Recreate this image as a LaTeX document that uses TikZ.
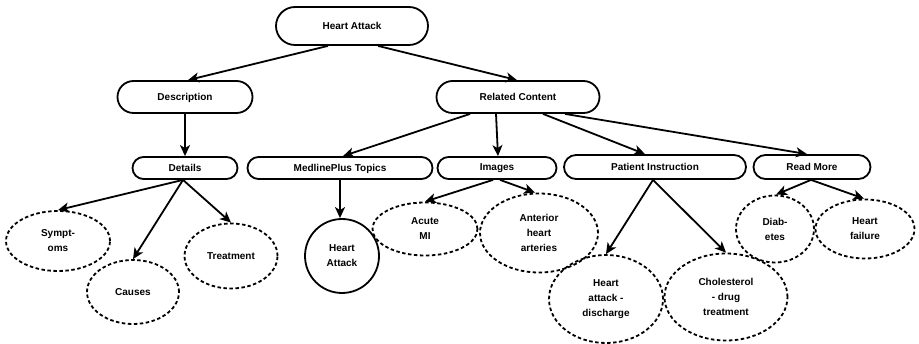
\documentclass[tikz,border=0pt]{standalone}
\usepackage{fontspec}
\setmainfont{Liberation Sans}
\usetikzlibrary{shapes.geometric,arrows.meta}
\tikzset{
  box/.style={draw, line width=1.8pt, rounded corners=#1, inner sep=0pt, text depth=1pt, font=\bfseries\fontsize{10}{15}\selectfont},
  oval/.style={draw, ellipse, line width=1.8pt, dash pattern=on 3.5pt off 2.5pt, inner sep=0pt, align=center, font=\bfseries\fontsize{10}{15}\selectfont},
  arr/.style={line width=1.8pt, -{Stealth[length=11pt,width=10pt,inset=3pt]}},
}
\begin{document}
\begin{tikzpicture}[x=1pt,y=-1pt]
\useasboundingbox (0,0) rectangle (919,344);
% rounded boxes
\node[box=19pt, minimum width=152pt, minimum height=38pt] (ha) at (352,26) {Heart Attack};
\node[box=16pt, minimum width=135pt, minimum height=32pt] (desc) at (185,97) {Description};
\node[box=16pt, minimum width=163pt, minimum height=32pt] (rc) at (518,97) {Related Content};
\node[box=11pt, minimum width=105pt, minimum height=22pt] (det) at (185,168) {Details};
\node[box=11pt, minimum width=185pt, minimum height=22pt] (mp) at (340,168) {MedlinePlus Topics};
\node[box=11pt, minimum width=119pt, minimum height=22pt] (img) at (497,168) {Images};
\node[box=12pt, minimum width=182pt, minimum height=24pt] (pi) at (655,167) {Patient Instruction};
\node[box=12pt, minimum width=117pt, minimum height=24pt] (rm) at (812,167) {Read More};
% ellipses
\node[oval, minimum width=104pt, minimum height=60pt] (sym) at (58,241) {Sympt-\\oms};
\node[oval, minimum width=92pt, minimum height=64pt] (cau) at (133,292) {Causes};
\node[oval, minimum width=93pt, minimum height=65pt] (tre) at (231,256) {Treatment};
\node[draw, circle, line width=1.8pt, minimum size=74pt, inner sep=0pt, align=center, font=\bfseries\fontsize{10}{15}\selectfont] (hac) at (342,256) {Heart\\Attack};
\node[oval, minimum width=105pt, minimum height=53pt] (ami) at (425,229) {Acute\\MI};
\node[oval, minimum width=118pt, minimum height=79pt] (aha) at (539,233) {Anterior\\heart\\arteries};
\node[oval, minimum width=114pt, minimum height=88pt] (had) at (606,299) {Heart\\attack -\\discharge};
\node[oval, minimum width=123pt, minimum height=87pt] (chol) at (726,297) {Cholesterol\\- drug\\treatment};
\node[oval, minimum width=78pt, minimum height=67pt] (dia) at (775,229) {Diab-\\etes};
\node[oval, minimum width=99pt, minimum height=59pt] (hf) at (865,229) {Heart\\failure};
% connectors
\draw[arr] ([xshift=-24pt]ha.south) -- ([xshift=3pt]desc.north);
\draw[arr] ([xshift=26pt]ha.south) -- ([xshift=-1pt]rc.north);
\draw[arr] (desc.south) -- (det.north);
\draw[arr] ([xshift=-48pt]rc.south) -- ([xshift=3pt]mp.north);
\draw[arr] ([xshift=-22pt]rc.south) -- ([xshift=1pt]img.north);
\draw[arr] ([xshift=25pt]rc.south) -- ([xshift=-10pt]pi.north);
\draw[arr] ([xshift=47pt]rc.south) -- ([xshift=-5pt]rm.north);
\draw[arr] ([xshift=-2pt]det.south) -- (sym.north);
\draw[arr] ([xshift=-2pt]det.south) -- (cau.north);
\draw[arr] ([xshift=-2pt]det.south) -- (tre.north);
\draw[arr] (mp.south) -- ([xshift=-2pt]hac.north);
\draw[arr] ([xshift=-4pt]img.south) -- (ami.north);
\draw[arr] ([xshift=3pt]img.south) -- ([xshift=-4pt]aha.north);
\draw[arr] ([xshift=-2pt]pi.south) -- (had.north);
\draw[arr] ([xshift=-2pt]pi.south) -- (chol.north);
\draw[arr] ([xshift=-1pt]rm.south) -- ([xshift=1pt]dia.north);
\draw[arr] ([xshift=-1pt]rm.south) -- ([xshift=-1pt]hf.north);
\end{tikzpicture}
\end{document}
